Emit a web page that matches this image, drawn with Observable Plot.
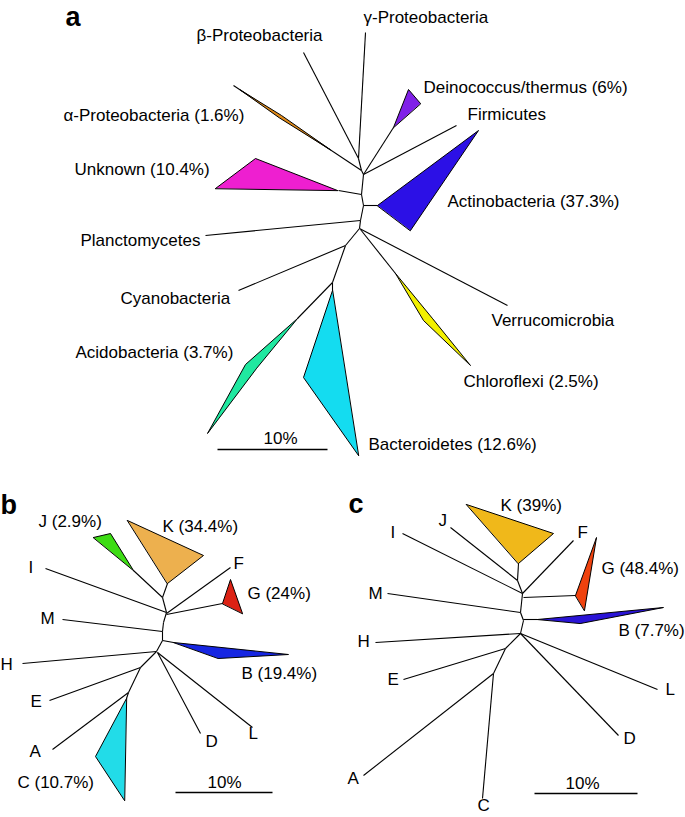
<!DOCTYPE html>
<html><head><meta charset="utf-8">
<script src="https://cdn.jsdelivr.net/npm/d3@7"></script>
<script src="https://cdn.jsdelivr.net/npm/@observablehq/plot@0.6"></script>
<style>html,body{margin:0;padding:0;background:#fff}#chart svg{display:block}</style>
</head><body><div id="chart"></div>
<script>
// ---- Panel a: tree branches [x1,y1,x2,y2] in layout units
const branchesA = [
  [365,32,358,158],[303,52,358,158],[358,158,361,170],
  [233,85,361,170],
  [361,170,363,174],[363,174,393,127],[363,174,456,125],
  [363,174,361,194],[338,190,361,194],[361,194,363,205],[363,205,377,205],
  [363,205,360,220],[205,235,360,220],[360,220,359,228],
  [359,228,345,245],[345,245,238,290],[345,245,332,282],[332,282,297,318],[332,282,332,290],
  [359,228,507,305],[360,229,395,273]
];
const cladeNamesA = ["α-Proteobacteria","Unknown","Deinococcus/thermus","Actinobacteria","Chloroflexi","Acidobacteria","Bacteroidetes"];
const cladeColorsA = ["#e08a18","#ee1fd0","#8020e8","#2c10e6","#f2f000","#20e8a0","#14dcf0"];
const cladeShapesA = [
  [[240,89.6],[280.9,114.9],[330,149.4],[279.1,117.5]],
  [[337,190],[255,158],[215,188]],
  [[393,127],[408,89],[420,103]],
  [[377,205],[478,130],[410,230]],
  [[395,273],[423,320],[470,365],[432,318]],
  [[297,318],[245,364],[207,433],[256,368]],
  [[332,290],[303,377],[358,455]]
];
const labelsA = ["γ-Proteobacteria","β-Proteobacteria","Deinococcus/thermus (6%)","Firmicutes","α-Proteobacteria (1.6%)","Unknown (10.4%)","Actinobacteria (37.3%)","Planctomycetes","Cyanobacteria","Verrucomicrobia","Acidobacteria (3.7%)","Chloroflexi (2.5%)","Bacteroidetes (12.6%)"];
const labelPosA = [[363,17],[196,35],[423,87],[467,114],[63,115],[74,169],[447,201],[80,240],[120,298],[491,320],[75,352],[463,381],[368,444]];

// ---- Panel b
const branchesB = [
  [133,570,162,597],[167,583,162,597],
  [162,597,166,612],[166,612,163,622],[163,622,162,631],[162,631,162,640],[162,640,156,651],
  [45,568,166,612],[230,567,166,613],[222,603,166,614],
  [62,619,162,631],[162,640,173,642],[22,663,156,651],
  [200,733,157,652],[252,727,157,652],
  [156,651,140,667],[49,700,140,667],[140,667,128,692],[52,749,128,692],[128,692,126,698]
];
const cladeNamesB = ["J","K","G","B","C"];
const cladeColorsB = ["#3ddc14","#edb04e","#dc2214","#1626e2","#22dce8"];
const cladeShapesB = [
  [[93,537],[110,533],[133,570]],
  [[127,520],[203,555],[167,583]],
  [[222,603],[230,579],[242,613]],
  [[173,642],[288,654],[218,658]],
  [[126,698],[95,756],[124,800]]
];
const labelsB = ["J (2.9%)","K (34.4%)","I","F","G (24%)","M","H","B (19.4%)","E","D","L","A","C (10.7%)"];
const labelPosB = [[38,521],[162,526],[28,567],[233,563],[247,593],[40,618],[0,664],[241,673],[30,701],[205,741],[248,733],[29,751],[17,782]];

// ---- Panel c
const branchesC = [
  [518,563,517,580],[450,527,517,580],
  [517,580,522,593],[522,593,520,612],[520,612,523,620],[523,620,520,633],
  [402,533,522,593],[573,540,522,593],[523,597,575,595],
  [387,593,520,612],[523,619,537,619],[375,642,520,633],
  [657,689,520,633],[618,735,520,633],
  [520,633,505,648],[403,679,505,648],[505,648,493,673],[363,775,493,673],[482,798,493,673]
];
const cladeNamesC = ["K","G","B"];
const cladeColorsC = ["#f0b81a","#f0420e","#2a14d6"];
const cladeShapesC = [
  [[466,504],[553,533],[518,563]],
  [[575,595],[596,537],[584,610]],
  [[537,619],[663,607],[580,623]]
];
const labelsC = ["K (39%)","J","I","F","G (48.4%)","M","B (7.7%)","H","E","L","D","A","C"];
const labelPosC = [[500,505],[438,520],[390,532],[577,532],[601,568],[368,593],[618,630],[357,641],[387,679],[665,689],[623,738],[347,778],[477,805]];

// ---- Panel letters and 10% scale bars
const panelLetters = ["a","b","c"];
const panelLetterPos = [[65,25],[0,513],[348,512]];
const scaleBars = [[217,327,449],[175,272,792],[534,637,793]];
const scaleLabel = "10%";
const scaleLabelPos = [[280,438],[224,782],[582,783]];

// ---- build tables
const toSeg = (arr) => arr.map(([x1,y1,x2,y2]) => ({x1,y1,x2,y2}));
const segments = [...toSeg(branchesA), ...toSeg(branchesB), ...toSeg(branchesC)];
const clades = [];
[[cladeNamesA,cladeColorsA,cladeShapesA,"a"],[cladeNamesB,cladeColorsB,cladeShapesB,"b"],[cladeNamesC,cladeColorsC,cladeShapesC,"c"]]
  .forEach(([names,colors,shapes,p]) => names.forEach((n,i) => clades.push({name:p+"-"+n, color:colors[i], pts:shapes[i].map(([x,y])=>({x,y}))})));
const labels = [];
[[labelsA,labelPosA],[labelsB,labelPosB],[labelsC,labelPosC]].forEach(([ls,ps]) => ls.forEach((t,i)=>labels.push({text:t,x:ps[i][0],y:ps[i][1]})));
const letters = panelLetters.map((t,i)=>({text:t,x:panelLetterPos[i][0],y:panelLetterPos[i][1]}));
const bars = scaleBars.map(([x1,x2,y],i)=>({x1,x2,y,lx:scaleLabelPos[i][0],ly:scaleLabelPos[i][1]}));

const font = "'Liberation Sans', Arial, Helvetica, sans-serif";
const chart = Plot.plot({
  width: 685, height: 817, margin: 0,
  x: {domain:[0,685], range:[0,685], axis:null},
  y: {domain:[0,817], range:[0,817], axis:null},
  style: {background:"white", fontFamily: font},
  marks: [
    Plot.link(segments, {x1:"x1", y1:"y1", x2:"x2", y2:"y2", stroke:"black", strokeWidth:1.1}),
    ...clades.map(c => Plot.line(c.pts, {x:"x", y:"y", curve:"linear-closed", fill:c.color, stroke:"black", strokeWidth:1, strokeLinejoin:"miter"})),
    Plot.link(bars, {x1:"x1", x2:"x2", y1:"y", y2:"y", stroke:"black", strokeWidth:1.3}),
    Plot.text(bars, {x:"lx", y:"ly", text:()=>scaleLabel, textAnchor:"middle", lineAnchor:"middle", fontSize:17, fill:"black"}),
    Plot.text(labels, {x:"x", y:"y", text:"text", textAnchor:"start", lineAnchor:"middle", fontSize:17, fill:"black"}),
    Plot.text(letters, {x:"x", y:"y", text:"text", textAnchor:"start", lineAnchor:"bottom", fontSize:27, fontWeight:"bold", fill:"black"})
  ]
});
document.getElementById("chart").appendChild(chart);
</script>
</body></html>
